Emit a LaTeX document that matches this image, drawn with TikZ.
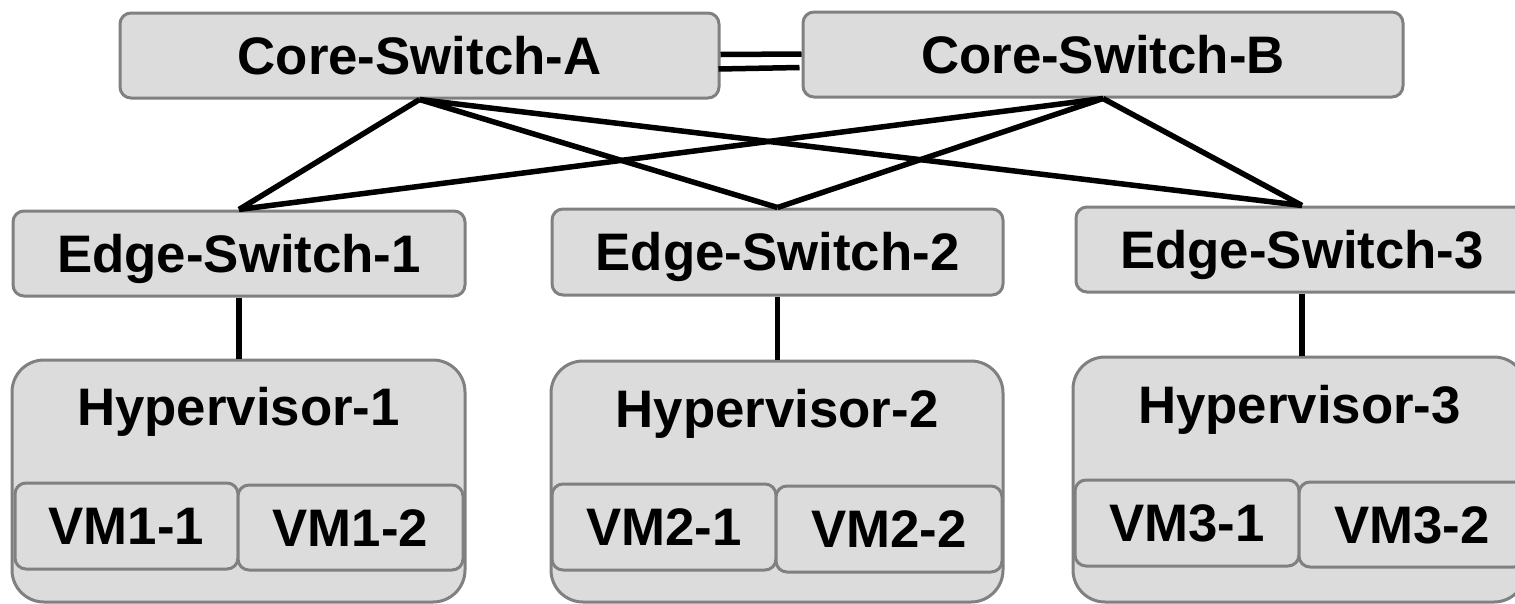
\documentclass[tikz,border=0pt]{standalone}
\usepackage{fontspec}
\setmainfont{Liberation Sans}
\definecolor{boxfill}{RGB}{220,220,220}
\definecolor{boxline}{RGB}{128,128,128}
\begin{document}
\begin{tikzpicture}[x=1pt,y=-1pt,
  font=\fontsize{52.8}{60}\selectfont\bfseries,
  unit/.style={draw=boxline, fill=boxfill, line width=3pt, rounded corners=11pt,
    inner sep=0pt, text height=37.8pt, text depth=0pt},
  hyper/.style={unit, rounded corners=32pt},
  caption/.style={inner sep=0pt, text height=37.8pt, text depth=0pt},
  link/.style={line width=5.5pt, black}]
\clip (0,0) rectangle (1515,603);

% core layer
\node[unit, minimum width=599pt, minimum height=85pt] (coreA) at (419.5,55.5) {Core-Switch-A};
\node[unit, minimum width=600pt, minimum height=85pt] (coreB) at (1103,54.5) {Core-Switch-B};

% edge layer
\node[unit, minimum width=452pt, minimum height=85pt] (edge1) at (239,253.5) {Edge-Switch-1};
\node[unit, minimum width=451pt, minimum height=86pt] (edge2) at (777.5,252) {Edge-Switch-2};
\node[unit, minimum width=452pt, minimum height=85pt] (edge3) at (1302,249.5) {Edge-Switch-3};

% hypervisors
\node[hyper, minimum width=453pt, minimum height=242pt] (hyp1) at (238.5,481) {};
\node[hyper, minimum width=452pt, minimum height=241pt] (hyp2) at (777,481.5) {};
\node[hyper, minimum width=453pt, minimum height=245pt] (hyp3) at (1299.5,479.5) {};
\node[caption] (hyp1lbl) at (238.5,406.5) {Hypervisor-1};
\node[caption] (hyp2lbl) at (777,408.5) {Hypervisor-2};
\node[caption] (hyp3lbl) at (1299.5,405) {Hypervisor-3};

% virtual machines
\node[unit, minimum width=223pt, minimum height=86pt] (vm11) at (126.5,526) {VM1-1};
\node[unit, minimum width=225pt, minimum height=85pt] (vm12) at (350.5,527.5) {VM1-2};
\node[unit, minimum width=224pt, minimum height=86pt] (vm21) at (664,527) {VM2-1};
\node[unit, minimum width=226pt, minimum height=86pt] (vm22) at (889,529) {VM2-2};
\node[unit, minimum width=224pt, minimum height=86pt] (vm31) at (1187,523) {VM3-1};
\node[unit, minimum width=226pt, minimum height=85pt] (vm32) at (1412,524.5) {VM3-2};

% core interconnect
\draw[link] ([yshift=1pt]coreA.east) -- ([yshift=0.5pt]coreB.west);
\draw[link] ([xshift=-2pt,yshift=-13.5pt]coreA.east) -- ([xshift=-2pt,yshift=-13pt]coreB.west);

% core to edge mesh
\foreach \c in {coreA,coreB}
  \foreach \e in {edge1,edge2,edge3}
    \draw[link] (\c.south) -- (\e.north);

% edge to hypervisor uplinks
\draw[link] (edge1.south) -- (edge1.south |- hyp1.north);
\draw[link] (edge2.south) -- (edge2.south |- hyp2.north);
\draw[link] (edge3.south) -- (edge3.south |- hyp3.north);
\end{tikzpicture}
\end{document}
